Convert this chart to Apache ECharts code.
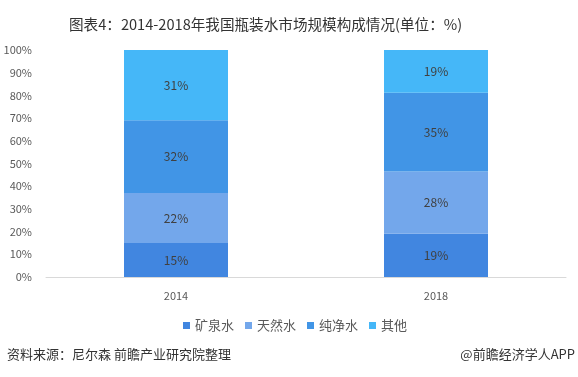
<!DOCTYPE html>
<html><head><meta charset="utf-8">
<script src="https://cdn.jsdelivr.net/npm/echarts@6/dist/echarts.min.js"></script>
<style>html,body{margin:0;padding:0;background:#fff}#c{width:578px;height:377px}</style>
</head><body><div id="c"></div>
<script>
const categories = ['2014', '2018'];
const seriesNames = ['矿泉水', '天然水', '纯净水', '其他'];
const mineral = [15, 19];
const natural = [22, 27.5];
const purified = [32, 34.7];
const other = [31, 18.8];
const yTicks = ['0%','10%','20%','30%','40%','50%','60%','70%','80%','90%','100%'];
const colors = ['#4186e0', '#73a7eb', '#4195e6', '#45b7f8'];
const values = [mineral, natural, purified, other];

const chart = echarts.init(document.getElementById('c'), null, {renderer: 'canvas'});
const FONT = '"Microsoft YaHei","Noto Sans CJK SC",sans-serif';
chart.setOption({
  animation: false,
  title: {
    text: '图表4：2014-2018年我国瓶装水市场规模构成情况(单位：%)',
    left: 64, top: 12,
    textStyle: {fontSize: 14.6, fontWeight: 'normal', color: '#333', fontFamily: FONT}
  },
  legend: {
    data: seriesNames, left: 178, top: 314,
    itemWidth: 7, itemHeight: 7, itemGap: 11, icon: 'rect',
    textStyle: {fontSize: 13, color: '#595959', fontFamily: FONT}
  },
  grid: {left: 46, right: 12, top: 50, bottom: 100},
  xAxis: {
    type: 'category', data: categories,
    axisLine: {lineStyle: {color: '#d9d9d9'}},
    axisTick: {show: false},
    axisLabel: {color: '#595959', fontSize: 11, margin: 13, fontFamily: FONT}
  },
  yAxis: {
    type: 'value', min: 0, max: 100, interval: 10,
    splitLine: {show: false},
    axisLine: {show: false}, axisTick: {show: false},
    axisLabel: {color: '#595959', fontSize: 11, margin: 14, fontFamily: FONT,
      formatter: (v) => yTicks[Math.round(v / 10)]}
  },
  graphic: [
    {type: 'text', left: 7, top: 348, style: {text: '资料来源：尼尔森 前瞻产业研究院整理', fill: '#333', font: '13px ' + FONT}},
    {type: 'text', right: 3, top: 348, style: {text: '@前瞻经济学人APP', fill: '#333', font: '13px ' + FONT}}
  ],
  series: seriesNames.map((n, i) => ({
    name: n, type: 'bar', stack: 'total', barWidth: '40%',
    data: values[i],
    itemStyle: {color: colors[i]},
    label: {show: true, position: 'inside', color: '#404040', fontSize: 12, fontFamily: FONT,
      formatter: (p) => Math.round(p.value) + '%'}
  }))
});
</script></body></html>
